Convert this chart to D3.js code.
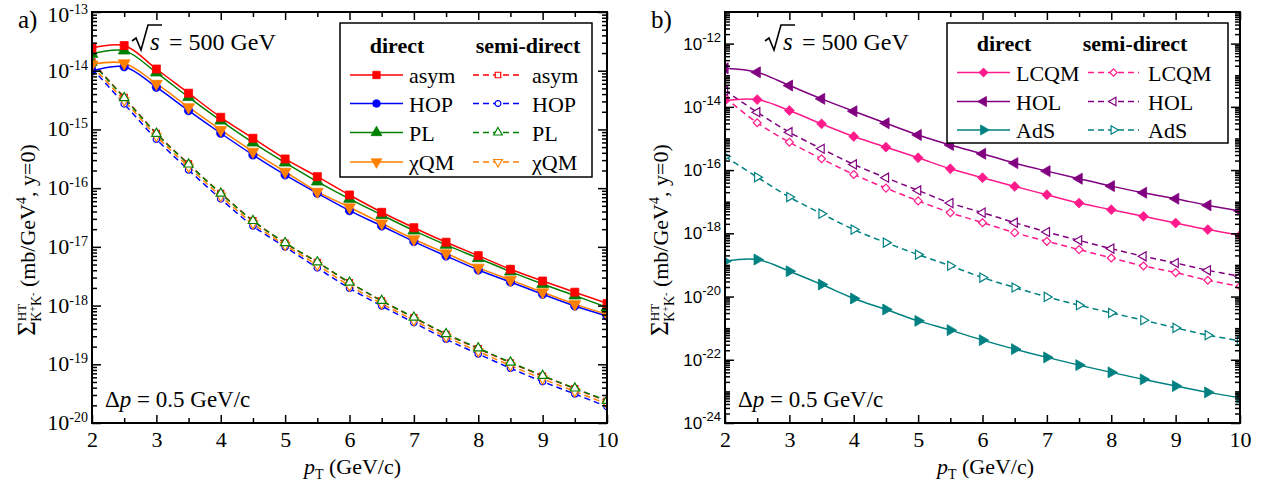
<!DOCTYPE html>
<html>
<head>
<meta charset="utf-8">
<script src="https://cdn.jsdelivr.net/npm/d3@7"></script>
<style>
  body { margin: 0; background: #fff; }
  svg { display: block; }
  .serif { font-family: "Liberation Serif", "Tinos", "Times New Roman", "DejaVu Serif", serif; }
  .sans { font-family: "Liberation Sans", Arimo, Arial, sans-serif; }
</style>
</head>
<body>
<svg id="chart" width="1269" height="489"></svg>
<script>
// ---- data ---------------------------------------------------------------
const pT = [2, 2.5, 3, 3.5, 4, 4.5, 5, 5.5, 6, 6.5, 7, 7.5, 8, 8.5, 9, 9.5, 10];
const xTickValues = [2, 3, 4, 5, 6, 7, 8, 9, 10];
const xMinorValues = [2.5, 3.5, 4.5, 5.5, 6.5, 7.5, 8.5, 9.5];
const leftYExponents = [-20, -19, -18, -17, -16, -15, -14, -13];
const rightYExponents = [-24, -22, -20, -18, -16, -14, -12];

// panel a) direct production
const asymDirect = [2.42e-14, 2.68e-14, 1.07e-14, 4.14e-15, 1.61e-15, 7.08e-16, 3.14e-16, 1.57e-16, 7.65e-17, 3.88e-17, 2.12e-17, 1.20e-17, 7.08e-18, 4.15e-18, 2.62e-18, 1.69e-18, 1.09e-18];
const hopDirect  = [9.93e-15, 1.17e-14, 5.24e-15, 2.09e-15, 8.61e-16, 3.68e-16, 1.68e-16, 8.18e-17, 4.14e-17, 2.27e-17, 1.23e-17, 7.00e-18, 4.04e-18, 2.52e-18, 1.56e-18, 9.84e-19, 6.65e-19];
const plDirect   = [1.93e-14, 2.20e-14, 9.29e-15, 3.54e-15, 1.41e-15, 5.96e-16, 2.72e-16, 1.29e-16, 6.55e-17, 3.49e-17, 1.89e-17, 1.08e-17, 6.40e-18, 3.79e-18, 2.33e-18, 1.48e-18, 9.35e-19];
const xqmDirect  = [1.28e-14, 1.34e-14, 6.00e-15, 2.39e-15, 9.79e-16, 4.19e-16, 1.91e-16, 8.71e-17, 4.73e-17, 2.52e-17, 1.35e-17, 7.78e-18, 4.43e-18, 2.73e-18, 1.69e-18, 1.06e-18, 7.11e-19];

// panel a) semi-direct production
const asymSemi = [1.41e-14, 3.51e-15, 8.61e-16, 2.58e-16, 8.18e-17, 2.79e-17, 1.16e-17, 5.47e-18, 2.45e-18, 1.20e-18, 6.22e-19, 3.24e-19, 1.85e-19, 1.06e-19, 6.32e-20, 3.84e-20, 2.37e-20];
const hopSemi  = [1.10e-14, 2.72e-15, 6.81e-16, 2.04e-16, 6.55e-17, 2.27e-17, 9.95e-18, 4.38e-18, 1.97e-18, 9.84e-19, 5.11e-19, 2.67e-19, 1.50e-19, 8.55e-20, 5.06e-20, 3.12e-20, 1.90e-20];
const plSemi   = [1.38e-14, 3.45e-15, 8.50e-16, 2.55e-16, 8.10e-17, 2.78e-17, 1.17e-17, 5.50e-18, 2.48e-18, 1.21e-18, 6.30e-19, 3.30e-19, 1.88e-19, 1.08e-19, 6.40e-20, 3.90e-20, 2.40e-20];
const xqmSemi  = [1.22e-14, 3.10e-15, 7.70e-16, 2.30e-16, 7.30e-17, 2.50e-17, 1.07e-17, 4.90e-18, 2.18e-18, 1.08e-18, 5.60e-19, 2.93e-19, 1.66e-19, 9.50e-20, 5.65e-20, 3.45e-20, 2.12e-20];

// panel b) direct production
const lcqmDirect = [1.58e-14, 1.70e-14, 7.64e-15, 2.90e-15, 1.15e-15, 5.30e-16, 2.45e-16, 1.10e-16, 5.73e-17, 3.04e-17, 1.66e-17, 9.03e-18, 5.60e-18, 3.44e-18, 2.11e-18, 1.31e-18, 8.63e-19];
const holDirect  = [1.66e-13, 1.24e-13, 4.71e-14, 1.79e-14, 7.26e-15, 3.03e-15, 1.29e-15, 6.22e-16, 3.28e-16, 1.66e-16, 9.27e-17, 5.33e-17, 3.11e-17, 1.92e-17, 1.24e-17, 7.66e-18, 5.04e-18];
const adsDirect  = [1.30e-19, 1.48e-19, 6.31e-20, 2.40e-20, 8.65e-21, 3.89e-21, 1.70e-21, 8.65e-22, 4.18e-22, 2.17e-22, 1.19e-22, 6.78e-23, 3.99e-23, 2.40e-23, 1.47e-23, 9.31e-24, 6.30e-24];

// panel b) semi-direct production
const lcqmSemi = [1.97e-14, 3.13e-15, 7.62e-16, 2.28e-16, 7.28e-17, 2.69e-17, 1.06e-17, 4.50e-18, 2.17e-18, 1.05e-18, 5.58e-19, 3.05e-19, 1.66e-19, 9.27e-20, 5.73e-20, 3.27e-20, 2.12e-20];
const holSemi  = [3.27e-14, 6.76e-15, 1.58e-15, 4.72e-16, 1.51e-16, 5.73e-17, 2.27e-17, 9.03e-18, 4.50e-18, 2.17e-18, 1.10e-18, 6.00e-19, 3.28e-19, 1.87e-19, 1.15e-19, 6.77e-20, 4.39e-20];
const adsSemi  = [2.70e-16, 5.98e-17, 1.40e-17, 4.18e-18, 1.31e-18, 5.08e-19, 2.12e-19, 9.40e-20, 3.99e-20, 1.93e-20, 9.73e-21, 5.32e-21, 3.04e-21, 1.79e-21, 1.02e-21, 6.01e-22, 3.97e-22];

// ---- styling ------------------------------------------------------------
const RED = "#ff0000", BLUE = "#0000ff", GREEN = "#008000", ORANGE = "#ff8000";
const PINK = "#ff1a8c", PURPLE = "#800080", TEAL = "#008080";

const SYMBOLS = {
  square:   { type: d3.symbolSquare,   rot: 0 },
  circle:   { type: d3.symbolCircle,   rot: 0 },
  triUp:    { type: d3.symbolTriangle, rot: 0 },
  triDown:  { type: d3.symbolTriangle, rot: 180 },
  triLeft:  { type: d3.symbolTriangle, rot: -90 },
  triRight: { type: d3.symbolTriangle, rot: 90 },
  diamond:  { type: d3.symbolDiamond2 || d3.symbolDiamond, rot: 0 }
};
const FILLED_SIZE = { square: 64, circle: 55, triUp: 60, triDown: 60, triLeft: 52, triRight: 52, diamond: 62 };
const OPEN_SIZE   = { square: 36, circle: 32, triUp: 38, triDown: 38, triLeft: 36, triRight: 36, diamond: 40 };

const svg = d3.select("#chart");

function marker(parent, sym, color, filled, cx, cy, scale = 1) {
  const s = SYMBOLS[sym];
  const size = (filled ? FILLED_SIZE[sym] : OPEN_SIZE[sym]) * scale;
  parent.append("path")
    .attr("d", d3.symbol().type(s.type).size(size)())
    .attr("transform", `translate(${cx},${cy}) rotate(${s.rot})`)
    .attr("fill", filled ? color : "#fff")
    .attr("stroke", color)
    .attr("stroke-width", filled ? 0.8 : 1.2);
}

function drawPanel(cfg) {
  const g = svg.append("g");
  const x = d3.scaleLinear().domain([2, 10]).range([cfg.left, cfg.right]);
  const y = d3.scaleLog().domain(cfg.yDomain).range([cfg.bottom, cfg.top]);

  const clipId = cfg.id + "-clip";
  svg.append("clipPath").attr("id", clipId)
    .append("rect")
    .attr("x", cfg.left).attr("y", cfg.top)
    .attr("width", cfg.right - cfg.left).attr("height", cfg.bottom - cfg.top);

  const plot = g.append("g").attr("clip-path", `url(#${clipId})`);
  const line = d3.line()
    .x((d, i) => x(pT[i]))
    .y(d => y(d))
    .curve(d3.curveCatmullRom.alpha(0.5));

  cfg.series.forEach(s => {
    plot.append("path")
      .attr("d", line(s.values))
      .attr("fill", "none")
      .attr("stroke", s.color)
      .attr("stroke-width", 1.5)
      .attr("stroke-dasharray", s.dashed ? "6,4" : null);
  });
  cfg.series.forEach(s => {
    s.values.forEach((v, i) => marker(plot, s.symbol, s.color, !s.dashed, x(pT[i]), y(v)));
  });

  // axes with inward ticks
  const axes = g.append("g");
  const styleAxis = sel => {
    sel.select(".domain").remove();
    sel.selectAll(".tick line").attr("stroke", "#000").attr("stroke-width", 1.5);
  };

  const xb = axes.append("g").attr("transform", `translate(0,${cfg.bottom})`)
    .call(d3.axisBottom(x).tickValues(xTickValues).tickSize(-8).tickPadding(8).tickFormat(d3.format("d")));
  styleAxis(xb);
  xb.attr("font-family", null).attr("font-size", null);
  xb.selectAll("text").attr("class", "serif").attr("font-size", 22).attr("fill", "#000");
  axes.append("g").attr("transform", `translate(0,${cfg.bottom})`)
    .call(d3.axisBottom(x).tickValues(xMinorValues).tickSize(-5).tickFormat(""))
    .call(styleAxis);
  axes.append("g").attr("transform", `translate(0,${cfg.top})`)
    .call(d3.axisTop(x).tickValues(xTickValues).tickSize(-8).tickFormat(""))
    .call(styleAxis);
  axes.append("g").attr("transform", `translate(0,${cfg.top})`)
    .call(d3.axisTop(x).tickValues(xMinorValues).tickSize(-5).tickFormat(""))
    .call(styleAxis);

  const majors = cfg.yExponents.map(e => Math.pow(10, e));
  const minors = [];
  const [lo, hi] = cfg.yDomain.map(v => Math.round(Math.log10(v)));
  for (let e = lo; e < hi; e++) {
    for (let m = 1; m <= 9; m++) {
      if (m === 1 && cfg.yExponents.includes(e)) continue;
      minors.push(m * Math.pow(10, e));
    }
  }
  axes.append("g").attr("transform", `translate(${cfg.left},0)`)
    .call(d3.axisLeft(y).tickValues(majors).tickSize(-9).tickFormat(""))
    .call(styleAxis);
  axes.append("g").attr("transform", `translate(${cfg.left},0)`)
    .call(d3.axisLeft(y).tickValues(minors).tickSize(-5).tickFormat(""))
    .call(styleAxis);
  axes.append("g").attr("transform", `translate(${cfg.right},0)`)
    .call(d3.axisRight(y).tickValues(majors).tickSize(-9).tickFormat(""))
    .call(styleAxis);
  axes.append("g").attr("transform", `translate(${cfg.right},0)`)
    .call(d3.axisRight(y).tickValues(minors).tickSize(-5).tickFormat(""))
    .call(styleAxis);

  // frame
  g.append("rect")
    .attr("x", cfg.left).attr("y", cfg.top)
    .attr("width", cfg.right - cfg.left).attr("height", cfg.bottom - cfg.top)
    .attr("fill", "none").attr("stroke", "#000").attr("stroke-width", 2);

  // y tick labels: 10^e (kept inside the page at the top edge)
  cfg.yExponents.forEach(e => {
    const t = g.append("text")
      .attr("class", cfg.labelClass)
      .attr("x", cfg.left - 4)
      .attr("y", Math.max(y(Math.pow(10, e)) + cfg.labelShift, 22))
      .attr("text-anchor", "end")
      .attr("font-size", cfg.labelSize);
    t.append("tspan").text("10");
    t.append("tspan").attr("font-size", cfg.supSize).attr("dy", -cfg.supRise).text(String(e));
  });

  // x-axis title
  const xt = g.append("text").attr("class", "serif")
    .attr("x", (cfg.left + cfg.right) / 2 + 3).attr("y", 474)
    .attr("text-anchor", "middle").attr("font-size", 22);
  xt.append("tspan").attr("font-style", "italic").text("p");
  xt.append("tspan").attr("font-size", 14).attr("dy", 5).text("T");
  xt.append("tspan").attr("dy", -5).text(" (GeV/c)");

  // y-axis title
  const yt = g.append("text").attr("class", "serif")
    .attr("transform", `translate(${cfg.left - 57},240) rotate(-90)`)
    .attr("text-anchor", "middle").attr("font-size", 22);
  yt.append("tspan").attr("font-size", 25).text("Σ");
  yt.append("tspan").attr("font-size", 13).attr("dy", -9).text("HT");
  yt.append("tspan").attr("font-size", 14).attr("dx", -18).attr("dy", 15).text("K");
  yt.append("tspan").attr("font-size", 10).attr("dy", -5).text("+");
  yt.append("tspan").attr("font-size", 14).attr("dy", 5).text("K");
  yt.append("tspan").attr("font-size", 10).attr("dy", -5).text("-");
  yt.append("tspan").attr("dy", -1).text(" (mb/GeV");
  yt.append("tspan").attr("font-size", 14).attr("dy", -9).text("4");
  yt.append("tspan").attr("dy", 9).text(", y=0)");

  // panel letter
  g.append("text").attr("class", "serif").attr("x", cfg.left - 74).attr("y", 28)
    .attr("font-size", 25).text(cfg.letter);

  // sqrt(s) = 500 GeV
  const rx = cfg.left + 40;
  g.append("path")
    .attr("d", `M${rx},${41} L${rx + 4},${38} L${rx + 9},${50} L${rx + 16},${25} L${rx + 30},${25}`)
    .attr("fill", "none").attr("stroke", "#000").attr("stroke-width", 1.6);
  g.append("text").attr("class", "serif").attr("x", rx + 18).attr("y", 50)
    .attr("font-size", 25).attr("font-style", "italic").text("s");
  g.append("text").attr("class", "serif").attr("x", rx + 37).attr("y", 50)
    .attr("font-size", 24).text("= 500 GeV");

  // momentum bin
  const dp = g.append("text").attr("class", "serif").attr("x", cfg.left + 13).attr("y", 407)
    .attr("font-size", 23);
  dp.append("tspan").text("Δ");
  dp.append("tspan").attr("font-style", "italic").text("p");
  dp.append("tspan").text(" = 0.5 GeV/c");

  // legend
  const L = cfg.legend;
  const lg = g.append("g").attr("class", "serif").attr("font-size", 22);
  lg.append("rect")
    .attr("x", L.x0).attr("y", L.y0).attr("width", L.x1 - L.x0).attr("height", L.y1 - L.y0)
    .attr("fill", "#fff").attr("stroke", "#000").attr("stroke-width", 1.5);
  lg.append("text").attr("x", L.headDirect).attr("y", L.headY)
    .attr("text-anchor", "middle").attr("font-weight", "bold").text("direct");
  lg.append("text").attr("x", L.headSemi).attr("y", L.headY)
    .attr("text-anchor", "middle").attr("font-weight", "bold").text("semi-direct");
  cfg.legendRows.forEach((row, i) => {
    const ry = L.rows[i];
    [[row.direct, L.direct], [row.semi, L.semi]].forEach(([s, pos]) => {
      lg.append("line")
        .attr("x1", pos[0]).attr("x2", pos[1]).attr("y1", ry).attr("y2", ry)
        .attr("stroke", s.color).attr("stroke-width", 1.5)
        .attr("stroke-dasharray", s.dashed ? "6,4" : null);
      marker(lg, s.symbol, s.color, !s.dashed, (pos[0] + pos[1]) / 2, ry, 0.85);
      lg.append("text").attr("x", pos[2]).attr("y", ry + 8).text(s.name);
    });
  });
}

// ---- panel a) -------------------------------------------------------------
const seriesA = [
  { name: "asym", values: asymSemi,  color: RED,    symbol: "square",  dashed: true },
  { name: "HOP",  values: hopSemi,   color: BLUE,   symbol: "circle",  dashed: true },
  { name: "χQM",  values: xqmSemi,   color: ORANGE, symbol: "triDown", dashed: true },
  { name: "PL",   values: plSemi,    color: GREEN,  symbol: "triUp",   dashed: true },
  { name: "HOP",  values: hopDirect, color: BLUE,   symbol: "circle",  dashed: false },
  { name: "χQM",  values: xqmDirect, color: ORANGE, symbol: "triDown", dashed: false },
  { name: "PL",   values: plDirect,  color: GREEN,  symbol: "triUp",   dashed: false },
  { name: "asym", values: asymDirect, color: RED,   symbol: "square",  dashed: false }
];
const byKey = (arr, name, dashed) => arr.find(s => s.name === name && s.dashed === dashed);

drawPanel({
  id: "pa", letter: "a)",
  left: 92, right: 607, top: 12, bottom: 423,
  yDomain: [1e-20, 1e-13], yExponents: leftYExponents,
  labelClass: "serif", labelSize: 22, supSize: 14, supRise: 8, labelShift: 7,
  series: seriesA,
  legend: {
    x0: 340, x1: 592, y0: 23, y1: 177,
    headDirect: 397, headSemi: 528, headY: 53,
    rows: [75, 103.5, 132.5, 162],
    direct: [350, 403, 409], semi: [473, 523, 532]
  },
  legendRows: ["asym", "HOP", "PL", "χQM"].map(n => ({
    direct: byKey(seriesA, n, false), semi: byKey(seriesA, n, true)
  }))
});

// ---- panel b) -------------------------------------------------------------
const seriesB = [
  { name: "AdS",  values: adsSemi,    color: TEAL,   symbol: "triRight", dashed: true },
  { name: "LCQM", values: lcqmSemi,   color: PINK,   symbol: "diamond",  dashed: true },
  { name: "HOL",  values: holSemi,    color: PURPLE, symbol: "triLeft",  dashed: true },
  { name: "AdS",  values: adsDirect,  color: TEAL,   symbol: "triRight", dashed: false },
  { name: "LCQM", values: lcqmDirect, color: PINK,   symbol: "diamond",  dashed: false },
  { name: "HOL",  values: holDirect,  color: PURPLE, symbol: "triLeft",  dashed: false }
];

drawPanel({
  id: "pb", letter: "b)",
  left: 725, right: 1240, top: 12, bottom: 423,
  yDomain: [1e-24, 1e-11], yExponents: rightYExponents,
  labelClass: "sans", labelSize: 17, supSize: 13, supRise: 8, labelShift: 6,
  series: seriesB,
  legend: {
    x0: 947, x1: 1228, y0: 23, y1: 143,
    headDirect: 1004, headSemi: 1135, headY: 51,
    rows: [72.5, 101.5, 130],
    direct: [957, 1010, 1016], semi: [1088, 1139, 1148]
  },
  legendRows: ["LCQM", "HOL", "AdS"].map(n => ({
    direct: byKey(seriesB, n, false), semi: byKey(seriesB, n, true)
  }))
});
</script>
</body>
</html>
